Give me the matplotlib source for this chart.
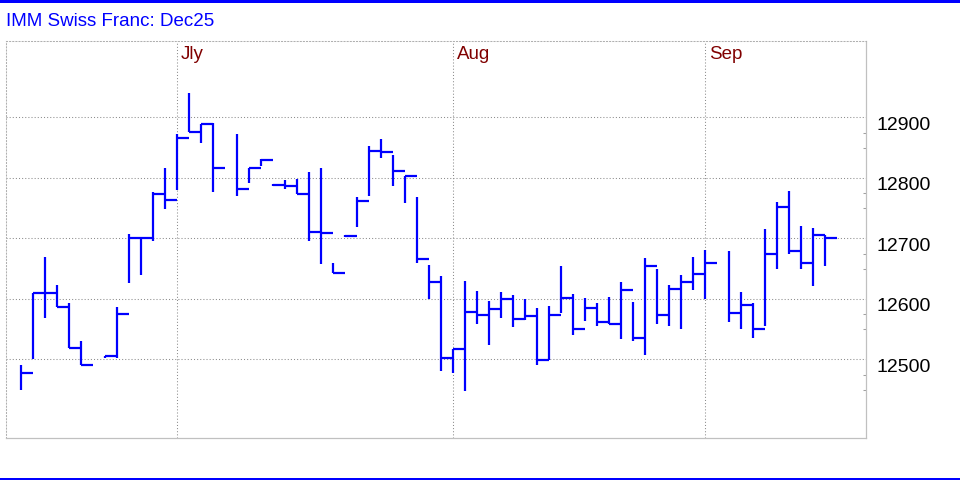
import matplotlib
matplotlib.use("Agg")
import matplotlib.pyplot as plt
import matplotlib.transforms as mtransforms
from matplotlib.patches import Rectangle
import numpy as np
import pandas as pd

plt.rcParams['font.family'] = ['Liberation Sans', 'DejaVu Sans']

# Chart text
title = "IMM Swiss Franc: Dec25"
month_names = {7: "Jly", 8: "Aug", 9: "Sep"}

# Trading days shown (weekdays, holidays left empty)
start_date = "2025-06-11"
end_date = "2025-09-12"
holidays = ["2025-06-19", "2025-07-04", "2025-09-01"]

# Daily high / low / close (None = holiday)
highs = [12491, 12609, 12669, 12623, 12594, 12531, None, 12506, 12586, 12707,
         12701, 12776, 12816, 12872, 12941, 12890, 12891, None, 12873, 12817,
         12832, 12790, 12796, 12798, 12810, 12816, 12659, 12706, 12768, 12853,
         12864, 12838, 12804, 12768, 12656, 12638, 12518, 12630, 12613, 12596,
         12611, 12607, 12600, 12585, 12589, 12654, 12608, 12601, 12593, 12603,
         12628, 12595, 12667, 12649, 12623, 12639, 12669, 12681, None, 12679,
         12611, 12593, 12716, 12760, 12778, 12720, 12717, 12706]
lows = [12449, 12500, 12569, 12587, 12519, 12490, None, 12502, 12503, 12627,
        12640, 12696, 12749, 12780, 12876, 12858, 12776, None, 12771, 12792,
        12820, 12786, 12781, 12773, 12696, 12658, 12643, 12703, 12719, 12771,
        12833, 12787, 12759, 12660, 12600, 12480, 12478, 12447, 12559, 12523,
        12569, 12554, 12565, 12490, 12499, 12577, 12540, 12564, 12555, 12559,
        12533, 12531, 12507, 12559, 12556, 12550, 12615, 12600, None, 12561,
        12550, 12536, 12556, 12650, 12674, 12649, 12622, 12655]
closes = [12477, 12609, 12609, 12587, 12519, 12490, None, 12506, 12575, 12701,
          12701, 12774, 12764, 12866, 12876, 12890, 12816, None, 12781, 12817,
          12830, 12788, 12787, 12773, 12711, 12709, 12643, 12704, 12762, 12845,
          12843, 12812, 12804, 12666, 12628, 12503, 12518, 12579, 12574, 12584,
          12600, 12566, 12572, 12499, 12574, 12602, 12551, 12585, 12562, 12559,
          12615, 12536, 12655, 12574, 12616, 12628, 12641, 12660, None, 12576,
          12590, 12551, 12674, 12752, 12680, 12660, 12706, 12701]

price_ticks = [12500, 12600, 12700, 12800, 12900]
minor_ticks = [12450, 12475, 12550, 12575, 12650, 12675, 12750, 12775, 12850, 12875]

dates = pd.bdate_range(start_date, end_date)
x = np.arange(len(dates))
hi = np.array([np.nan if v is None else v for v in highs], dtype=float)
lo = np.array([np.nan if v is None else v for v in lows], dtype=float)
cl = np.array([np.nan if v is None else v for v in closes], dtype=float)
ok = ~np.isnan(cl)

fig = plt.figure(figsize=(9.6, 4.8), dpi=100)
ax = fig.add_axes([6 / 960, 42 / 480, 859.7 / 960, 397.3 / 480])

grid_style = dict(color='#8c8c8c', linestyle=(0, (1, 2)), linewidth=0.75, zorder=1)

# Horizontal grid
for p in price_ticks:
    ax.axhline(p, **grid_style)

# Month separators (last trading day of the previous month)
for i in range(len(dates) - 1):
    if dates[i + 1].month != dates[i].month:
        ax.axvline(x[i], **grid_style)
        lab_tr = mtransforms.offset_copy(ax.get_xaxis_transform(), fig=fig,
                                         x=4, y=-1.5, units='dots')
        ax.text(x[i], 0.968, month_names[dates[i + 1].month], transform=lab_tr,
                color='#800000', fontsize=13.5, ha='left', va='center')

# HLC bars
ax.vlines(x[ok], lo[ok], hi[ok], color='#0000ff', linewidth=1.6,
          capstyle='butt', zorder=3)
ax.hlines(cl[ok], x[ok], x[ok] + 1, color='#0000ff', linewidth=1.6,
          capstyle='butt', zorder=3)

ax.set_xlim(-1.25, 70.4)
ax.set_ylim(12370, 13027)

# Axis: small inward ticks on the right, labels drawn as text
ax.set_xticks([])
ax.yaxis.tick_right()
ax.set_yticks(minor_ticks)
ax.tick_params(axis='y', direction='in', length=2.2, width=0.75,
               color='#a0a0a0', labelright=False, labelleft=False)
lab_tr = mtransforms.offset_copy(ax.get_yaxis_transform(), fig=fig,
                                 x=10.3, y=-8, units='dots')
for p in price_ticks:
    ax.text(1.0, p, str(p), transform=lab_tr, fontsize=14, color='black',
            ha='left', va='center')

for side in ['top', 'left']:
    ax.spines[side].set_linestyle((0, (1, 2)))
    ax.spines[side].set_color('#b0b0b0')
    ax.spines[side].set_linewidth(0.75)
for side in ['right', 'bottom']:
    ax.spines[side].set_color('#c0c0c0')
    ax.spines[side].set_linewidth(0.9)

# Title and blue frame lines
fig.text(6 / 960, 1 - 21 / 480, title, color='#0000ff', fontsize=13.5,
         ha='left', va='center')
fig.add_artist(Rectangle((0, 1 - 3 / 480), 1, 3 / 480, transform=fig.transFigure,
                         color='#0000ff', linewidth=0))
fig.add_artist(Rectangle((0, 0), 1, 2.5 / 480, transform=fig.transFigure,
                         color='#0000ff', linewidth=0))

fig.savefig("out.png", dpi=100)
